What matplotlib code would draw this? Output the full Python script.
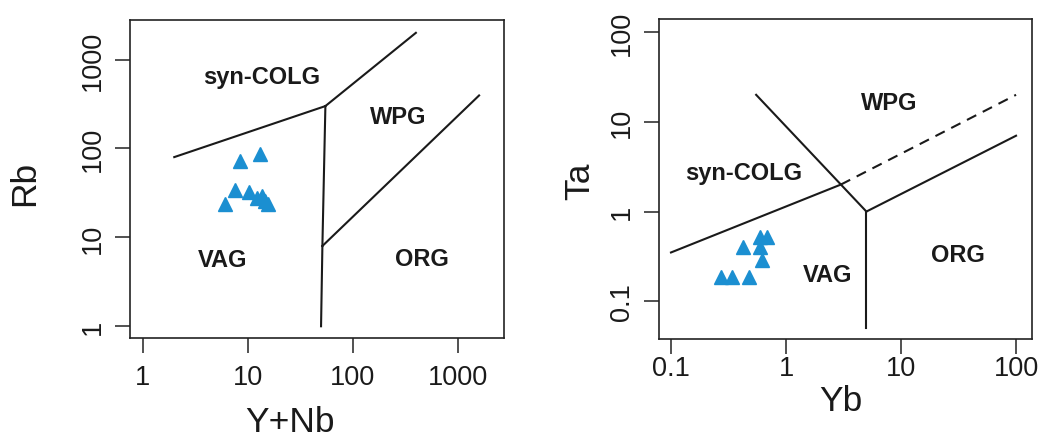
import numpy as np
import matplotlib
matplotlib.use("Agg")
import matplotlib.pyplot as plt

plt.rcParams['font.family'] = ['Liberation Sans', 'DejaVu Sans']

# sample data
ynb = [8.45, 13.1, 7.5, 10.4, 6.15, 12.2, 13.6, 14.6, 15.7]
rb = [73, 87, 34, 32.7, 23.8, 27.7, 29.4, 25.9, 23.8]
yb = [0.42, 0.60, 0.69, 0.60, 0.62, 0.27, 0.34, 0.48]
ta = [0.40, 0.525, 0.525, 0.40, 0.29, 0.187, 0.187, 0.187]

# field boundaries (Pearce et al. 1984)
rb_lines = [
    ([2, 55], [80, 300]),
    ([55, 400], [300, 2000]),
    ([55, 51.5], [300, 8]),
    ([51.5, 50], [8, 1]),
    ([51.5, 1600], [8, 395]),
]
ta_lines = [
    ([0.1, 3], [0.35, 2]),
    ([0.55, 3, 5], [20, 2, 1]),
    ([5, 5], [1, 0.05]),
    ([5, 100], [1, 7]),
]
ta_dashed = ([3, 100], [2, 20])

rb_fields = [("syn-COLG", 13.6, 650), ("WPG", 272, 230), ("VAG", 5.8, 5.6), ("ORG", 454, 5.8)]
ta_fields = [("syn-COLG", 0.43, 2.7), ("WPG", 7.9, 16.3), ("VAG", 2.3, 0.197), ("ORG", 31, 0.33)]

pt_color = '#1b8fd1'

fig = plt.figure(figsize=(10.38, 4.39), dpi=100)
ax1 = fig.add_axes([0.1252, 0.2278, 0.3603, 0.7244])
ax2 = fig.add_axes([0.6349, 0.2255, 0.3591, 0.729])

def style(ax, xt, xl, yt, yl, xlim, ylim, xpad):
    ax.set_xscale('log')
    ax.set_yscale('log')
    ax.set_xlim(*xlim)
    ax.set_ylim(*ylim)
    ax.minorticks_off()
    ax.set_xticks(xt)
    ax.set_xticklabels(xl, fontsize=19.5)
    ax.set_yticks(yt)
    ax.set_yticklabels(yl, fontsize=19.5, rotation=90, va='center')
    ax.tick_params(length=10.5, width=1.1, direction='out', color='#222222', labelcolor='#1a1a1a')
    ax.tick_params(axis='x', pad=xpad)
    ax.tick_params(axis='y', pad=7)
    for s in ax.spines.values():
        s.set_linewidth(1.2)
        s.set_color('#222222')

style(ax1, [1, 10, 100, 1000], ['1', '10', '100', '1000'],
      [1, 10, 100, 1000], ['1', '10', '100', '1000'], (0.757, 2760), (0.738, 2790), 8)
style(ax2, [0.1, 1, 10, 100], ['0.1', '1', '10', '100'],
      [0.1, 1, 10, 100], ['0.1', '1', '10', '100'], (0.0787, 137), (0.038, 140), 1)

for xs, ys in rb_lines:
    ax1.plot(xs, ys, color='#1a1a1a', lw=1.5)
for xs, ys in ta_lines:
    ax2.plot(xs, ys, color='#1a1a1a', lw=1.5)
ax2.plot(ta_dashed[0], ta_dashed[1], color='#1a1a1a', lw=1.5, ls=(0, (5, 3.5)))

for name, x, y in rb_fields:
    ax1.text(x, y, name, fontsize=17, fontweight='bold', ha='center', va='center', color='#1a1a1a')
for name, x, y in ta_fields:
    ax2.text(x, y, name, fontsize=17, fontweight='bold', ha='center', va='center', color='#1a1a1a')

ax1.plot(ynb, rb, ls='none', marker='^', ms=10, color=pt_color, mec=pt_color)
ax2.plot(yb, ta, ls='none', marker='^', ms=10, color=pt_color, mec=pt_color)

fig.text(290 / 1038, 1 - 423 / 439, 'Y+Nb', fontsize=25.5, ha='center', va='center', color='#1a1a1a')
fig.text(25 / 1038, 1 - 183 / 439, 'Rb', fontsize=25.5, ha='center', va='center', rotation=90, color='#1a1a1a')
fig.text(840.7 / 1038, 1 - 401.7 / 439, 'Yb', fontsize=25.5, ha='center', va='center', color='#1a1a1a')
fig.text(579.3 / 1038, 1 - 181.7 / 439, 'Ta', fontsize=25.5, ha='center', va='center', rotation=90, color='#1a1a1a')

fig.savefig('out.png', dpi=100)
